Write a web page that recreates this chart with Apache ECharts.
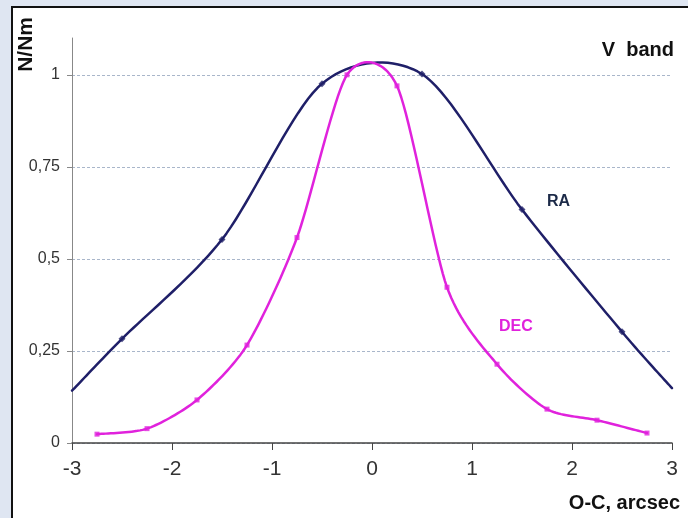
<!DOCTYPE html>
<html>
<head>
<meta charset="UTF-8">
<title>V band</title>
<script src="https://cdn.jsdelivr.net/npm/echarts@6/dist/echarts.min.js"></script>
<style>
  html, body { margin: 0; padding: 0; }
  #main { width: 688px; height: 518px; }
</style>
</head>
<body>
<div id="main"></div>
<script>
// RA profile (O-C in arcsec, normalised counts)
var raX = [-3, -2.5, -1.5, -0.5, 0.5, 1.5, 2.5, 3];
var raY = [0.142, 0.283, 0.553, 0.976, 1.002, 0.634, 0.302, 0.149];
// DEC profile
var decX = [-2.75, -2.25, -1.75, -1.25, -0.75, -0.25, 0.25, 0.75, 1.25, 1.75, 2.25, 2.75];
var decY = [0.024, 0.039, 0.117, 0.266, 0.558, 1.0, 0.97, 0.423, 0.214, 0.092, 0.062, 0.027];
var yTicks = [0, 0.25, 0.5, 0.75, 1];

var font = "'Liberation Sans', Arial, sans-serif";
var raColor = '#1f1f68';
var decColor = '#e022dc';

function pairs(xs, ys, edgeless) {
  return xs.map(function (x, i) {
    var item = { value: [x, ys[i]] };
    // the end points at +-3 carry no marker
    if (edgeless && (x <= -3 || x >= 3)) item.symbol = 'none';
    return item;
  });
}

// spreadsheet-style smoothed line: cubic bezier through the points,
// control points at +-k of the neighbour chord (may overshoot, like Excel)
function curve(xs, ys, color, k) {
  return {
    type: 'custom', coordinateSystem: 'cartesian2d', clip: false, silent: true,
    data: xs.map(function (x, i) { return [x, ys[i]]; }),
    encode: { x: 0, y: 1 },
    renderItem: function (params, api) {
      if (params.dataIndex !== 0) return;
      var p = xs.map(function (x, i) { return api.coord([x, ys[i]]); });
      var n = p.length, pts = [];
      for (var i = 0; i < n - 1; i++) {
        var p0 = p[i - 1] || p[i], p1 = p[i], p2 = p[i + 1], p3 = p[i + 2] || p[i + 1];
        var c1 = [p1[0] + (p2[0] - p0[0]) * k, p1[1] + (p2[1] - p0[1]) * k];
        var c2 = [p2[0] - (p3[0] - p1[0]) * k, p2[1] - (p3[1] - p1[1]) * k];
        for (var s = (i === 0 ? 0 : 1); s <= 20; s++) {
          var t = s / 20, u = 1 - t;
          pts.push([
            u * u * u * p1[0] + 3 * u * u * t * c1[0] + 3 * u * t * t * c2[0] + t * t * t * p2[0],
            u * u * u * p1[1] + 3 * u * u * t * c1[1] + 3 * u * t * t * c2[1] + t * t * t * p2[1]
          ]);
        }
      }
      return {
        type: 'polyline',
        shape: { points: pts },
        style: { stroke: color, lineWidth: 2.5, fill: null, lineJoin: 'round', lineCap: 'round' }
      };
    }
  };
}

var chart = echarts.init(document.getElementById('main'));
chart.setOption({
  backgroundColor: '#dfe6f2',
  animation: false,
  grid: { left: 72, right: 16, top: 38, bottom: 75 },
  graphic: [
    {
      type: 'rect', z: -100, silent: true,
      shape: { x: 12, y: 7, width: 700, height: 530 },
      style: { fill: '#ffffff', stroke: '#111111', lineWidth: 2 }
    },
    {
      type: 'text', left: 16, top: 17, rotation: Math.PI / 2,
      style: { text: 'N/Nm', font: 'bold 21px ' + font, fill: '#111' }
    },
    {
      type: 'text', right: 14, top: 40,
      style: { text: 'V  band', font: 'bold 20px ' + font, fill: '#111' }
    },
    {
      type: 'text', right: 8, top: 493,
      style: { text: 'O-C, arcsec', font: 'bold 20px ' + font, fill: '#111' }
    },
    {
      type: 'text', left: 547, top: 194,
      style: { text: 'RA', font: 'bold 16px ' + font, fill: '#1c2a48' }
    },
    {
      type: 'text', left: 499, top: 319,
      style: { text: 'DEC', font: 'bold 16px ' + font, fill: decColor }
    }
  ],
  xAxis: {
    type: 'value', min: -3, max: 3, interval: 1,
    axisLine: { onZero: false, lineStyle: { color: '#444', width: 1.5 } },
    axisTick: { length: 7, lineStyle: { color: '#444' } },
    axisLabel: { margin: 16, fontFamily: font, fontSize: 21, color: '#333' },
    splitLine: { show: false }
  },
  yAxis: {
    type: 'value', min: 0, max: 1.1, interval: 0.25,
    axisLine: { show: true, onZero: false, lineStyle: { color: '#888', width: 1 } },
    axisTick: { show: true, length: 5, customValues: yTicks, lineStyle: { color: '#888' } },
    axisLabel: {
      margin: 12, fontFamily: font, fontSize: 16, color: '#333',
      customValues: yTicks,
      formatter: function (v) { return String(v).replace('.', ','); }
    },
    splitLine: { show: true, lineStyle: { color: '#a9b6ca', type: [3, 2], width: 1 } }
  },
  series: [
    curve(raX, raY, raColor, 0.146),
    {
      name: 'RA', type: 'scatter',
      data: pairs(raX, raY, true),
      symbol: 'diamond', symbolSize: 7,
      itemStyle: { color: raColor }
    },
    curve(decX, decY, decColor, 0.13),
    {
      name: 'DEC', type: 'scatter',
      data: pairs(decX, decY, false),
      symbol: 'rect', symbolSize: 5,
      itemStyle: { color: decColor }
    }
  ]
});
</script>
</body>
</html>
